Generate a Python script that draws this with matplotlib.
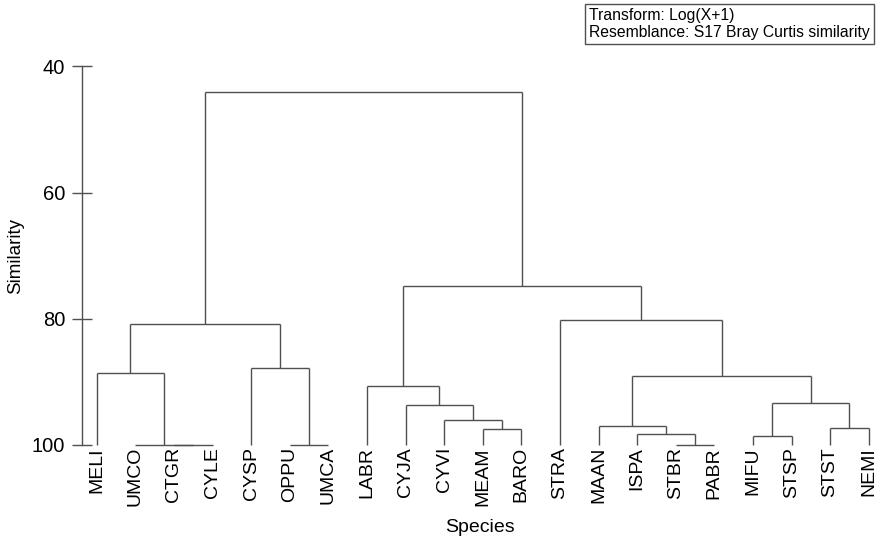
import matplotlib
matplotlib.use("Agg")
import matplotlib.pyplot as plt

plt.rcParams["font.family"] = ["Liberation Sans", "DejaVu Sans"]

# Leaf order along the x axis
species = ["MELI", "UMCO", "CTGR", "CYLE", "CYSP", "OPPU", "UMCA",
           "LABR", "CYJA", "CYVI", "MEAM", "BARO", "STRA", "MAAN",
           "ISPA", "STBR", "PABR", "MIFU", "STSP", "STST", "NEMI"]

# Agglomeration steps: (child_a, child_b, similarity). A child is either a
# species name or the integer index of an earlier step.
merges = [
    ("CTGR", "CYLE", 100.0),   # 0
    ("UMCO", 0, 100.0),        # 1
    ("MELI", 1, 88.6),         # 2
    ("OPPU", "UMCA", 100.0),   # 3
    ("CYSP", 3, 87.8),         # 4
    (2, 4, 80.8),              # 5
    ("MEAM", "BARO", 97.4),    # 6
    ("CYVI", 6, 96.0),         # 7
    ("CYJA", 7, 93.7),         # 8
    ("LABR", 8, 90.6),         # 9
    ("STBR", "PABR", 100.0),   # 10
    ("ISPA", 10, 98.2),        # 11
    ("MAAN", 11, 97.0),        # 12
    ("MIFU", "STSP", 98.6),    # 13
    ("STST", "NEMI", 97.3),    # 14
    (13, 14, 93.4),            # 15
    (12, 15, 89.0),            # 16
    ("STRA", 16, 80.2),        # 17
    (9, 17, 74.8),             # 18
    (5, 18, 44.1),             # 19
]

y_ticks = [40, 60, 80, 100]

W, H = 879, 540
fig = plt.figure(figsize=(W / 100, H / 100), dpi=100)

# axes placed in pixel terms: spine at x=82, 40 at y=66, 100 at y=445
ax_left, ax_right = 82, 878
ax_top, ax_bot = 66.3, 445.0
ax = fig.add_axes([ax_left / W, 1 - ax_bot / H,
                   (ax_right - ax_left) / W, (ax_bot - ax_top) / H])

leaf_x = {name: i for i, name in enumerate(species)}
node_pos = []  # (x, height) per merge step


def pos(child):
    if isinstance(child, str):
        return leaf_x[child], 100.0
    return node_pos[child]


line_kw = dict(color="#505050", lw=1.0, solid_capstyle="butt", clip_on=False)
for a, b, h in merges:
    xa, ha = pos(a)
    xb, hb = pos(b)
    ax.plot([xa, xa], [ha, h], **line_kw)
    ax.plot([xb, xb], [hb, h], **line_kw)
    ax.plot([xa, xb], [h, h], **line_kw)
    node_pos.append(((xa + xb) / 2, h))

first_leaf_px, spacing = 96.7, 38.6
x0 = (ax_left - first_leaf_px) / spacing
ax.set_xlim(x0, x0 + (ax_right - ax_left) / spacing)
ax.set_ylim(100, 40)

for s in ["top", "right", "bottom"]:
    ax.spines[s].set_visible(False)
ax.spines["left"].set_color("#505050")
ax.spines["left"].set_linewidth(1.0)

ax.set_yticks(y_ticks)
ax.set_yticklabels([str(t) for t in y_ticks], fontsize=14.5)
ax.tick_params(axis="y", direction="inout", length=14, width=1.0,
               color="#505050", pad=5)

ax.set_xticks(range(len(species)))
ax.set_xticklabels(species, rotation=90, fontsize=14, va="top", ha="center")
ax.tick_params(axis="x", length=0, pad=1.5)

ax.set_ylabel("Similarity", fontsize=13.5, labelpad=6)
ax.set_xlabel("Species", fontsize=14, labelpad=9)

fig.text(589 / W, 1 - 8 / H,
         "Transform: Log(X+1)\nResemblance: S17 Bray Curtis similarity",
         fontsize=11.3, va="top", ha="left", linespacing=1.2,
         bbox=dict(boxstyle="square,pad=0.25", facecolor="white",
                   edgecolor="#505050", lw=1.0))

fig.savefig("out.png", dpi=100)
